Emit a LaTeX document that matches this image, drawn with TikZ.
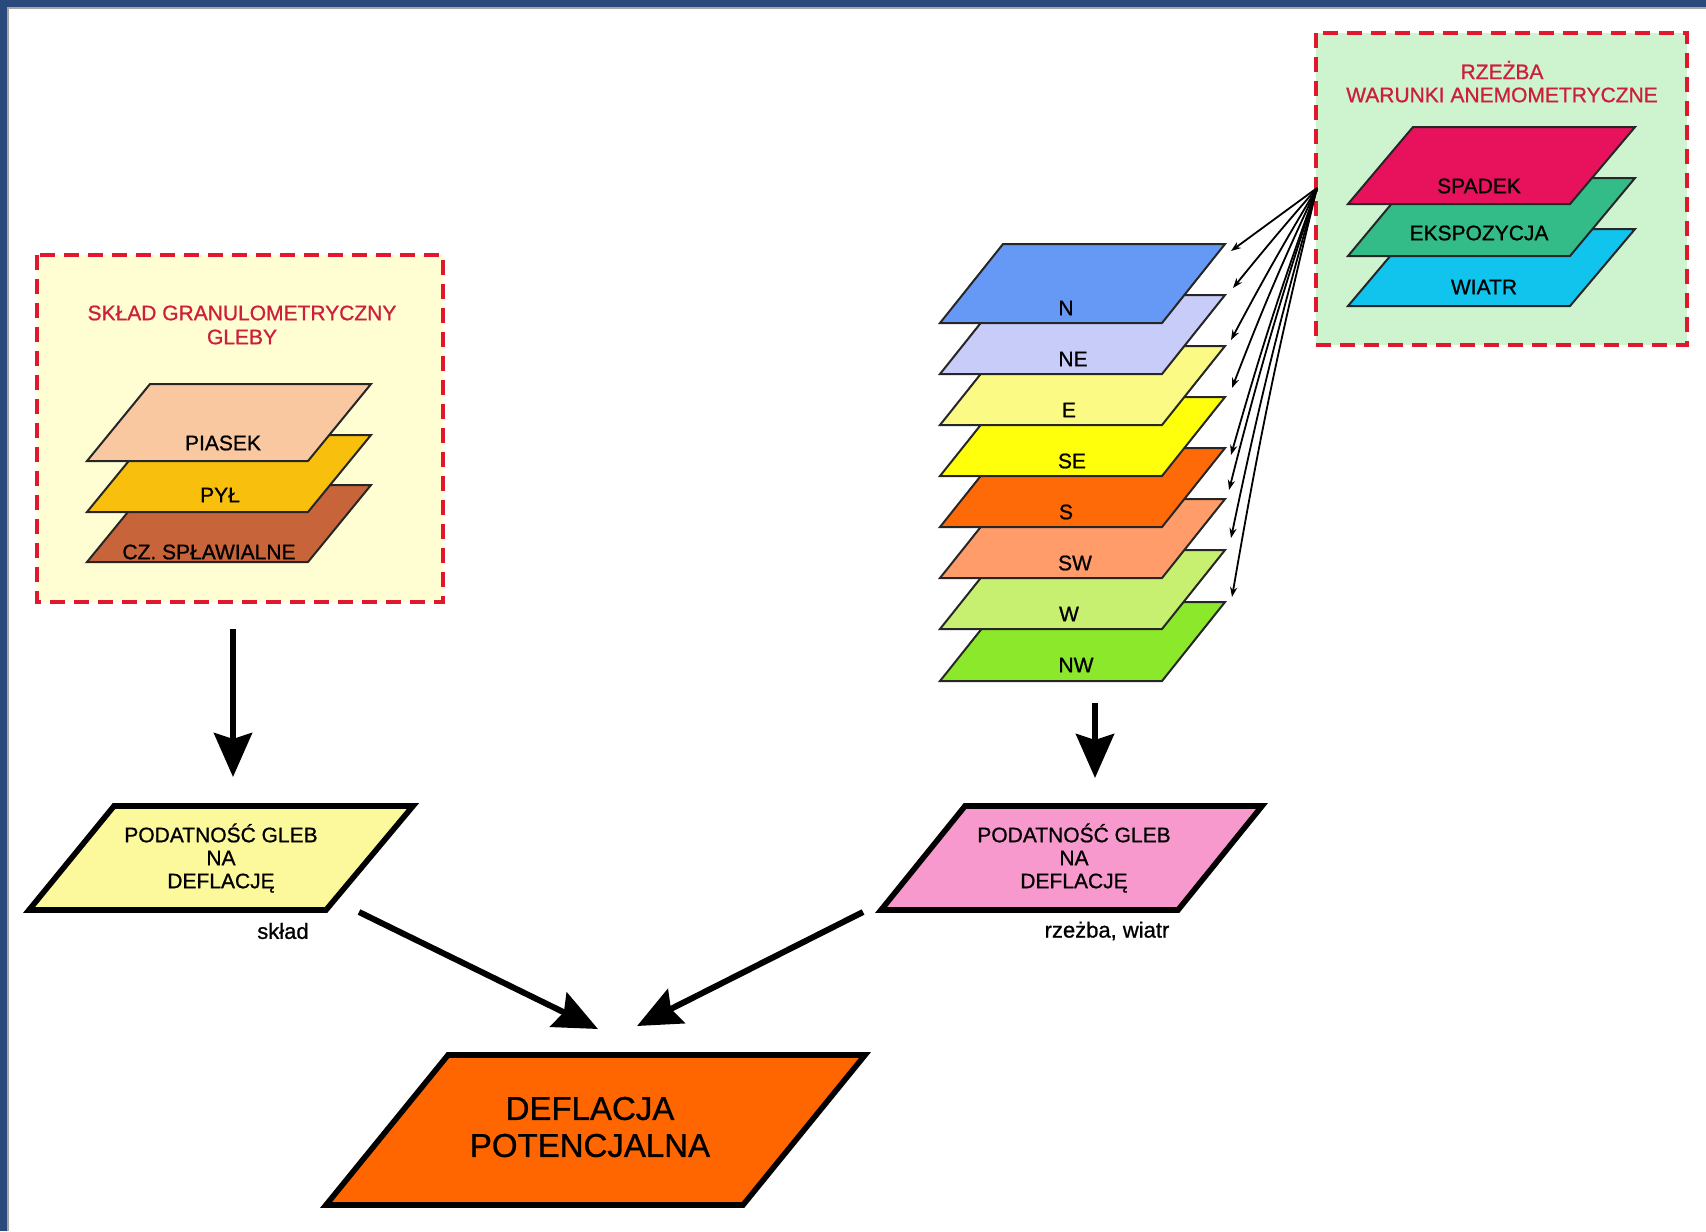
\documentclass[tikz,border=0pt]{standalone}
\usepackage{fontspec}
\setmainfont{Liberation Sans}[FakeBold=0.9]
\usetikzlibrary{arrows.meta,bending}

\definecolor{frameblue}{HTML}{2A4A7C}
\definecolor{dashred}{HTML}{E0182E}
\definecolor{titlered}{HTML}{CC1F3C}
\definecolor{creamfill}{HTML}{FFFDD2}
\definecolor{mintfill}{HTML}{CDF3CF}
\definecolor{piasek}{HTML}{F9C8A0}
\definecolor{pyl}{HTML}{F8C00C}
\definecolor{czsplaw}{HTML}{C8643A}
\definecolor{spadek}{HTML}{E8125C}
\definecolor{ekspo}{HTML}{33BB88}
\definecolor{wiatr}{HTML}{10C4EE}
\definecolor{dirN}{HTML}{6699F5}
\definecolor{dirNE}{HTML}{C8CCF8}
\definecolor{dirE}{HTML}{FAFA84}
\definecolor{dirSE}{HTML}{FFFF0C}
\definecolor{dirS}{HTML}{FF6A08}
\definecolor{dirSW}{HTML}{FF9C6A}
\definecolor{dirW}{HTML}{C8F070}
\definecolor{dirNW}{HTML}{8CE82A}
\definecolor{yellowbox}{HTML}{FCF89C}
\definecolor{pinkbox}{HTML}{F799CC}
\definecolor{deflbox}{HTML}{FF6600}

% a flat layer: bottom-left corner (#1,#2), width #3, height #4, skew #5, fill #6
\newcommand\slab[6]{%
  \filldraw[slabline, fill=#6] (#1,#2) -- ++(#3,0) -- ++(#5,-#4) -- ++(-#3,0) -- cycle;%
}

\begin{document}
\begin{tikzpicture}[x=0.5pt,y=-0.5pt,
  slabline/.style={draw=black!85, line width=1pt, line join=miter},
  lbl/.style={font=\fontsize{10.5}{11.5}\selectfont, text=black, inner sep=0pt},
  note/.style={font=\fontsize{11}{12}\selectfont, text=black, inner sep=0pt},
  grouptitle/.style={font=\fontsize{10.5}{12}\selectfont, text=titlered, inner sep=0pt},
  groupbox/.style={draw=dashred, dash pattern=on 7.5pt off 4.5pt, line width=1.6pt},
  resultbox/.style={draw=black, line width=2.8pt, line join=miter},
  bigarrow/.style={line width=3pt, -{Stealth[length=22pt,width=19pt,inset=3pt]}},
  fanarrow/.style={line width=0.9pt, -{Stealth[length=5pt,width=3.6pt]}},
]
\useasboundingbox (0,0) rectangle (1706,1231);

% frame bands
\fill[white] (0,0) rectangle (1706,1231);
\fill[black!35] (7,7) rectangle (1706,9);
\fill[black!35] (7,7) rectangle (9,1231);
\fill[frameblue] (0,0) rectangle (1706,7);
\fill[frameblue] (0,0) rectangle (7,1231);

% ---- soil texture group ----
\filldraw[groupbox, fill=creamfill] (37,255) rectangle (443,602);
\node[grouptitle] (soiltitle1) at (242,313) {SKŁAD GRANULOMETRYCZNY};
\node[grouptitle] (soiltitle2) at (242,337) {GLEBY};
\slab{87}{562}{221}{77}{63}{czsplaw}
\slab{87}{512}{221}{77}{63}{pyl}
\slab{87}{461}{221}{77}{63}{piasek}
\node[lbl] (lPiasek) at (223,443) {PIASEK};
\node[lbl] (lPyl) at (220,495) {PYŁ};
\node[lbl] (lCz) at (209,552) {CZ. SPŁAWIALNE};

% ---- relief / wind group ----
\filldraw[groupbox, fill=mintfill] (1316,33) rectangle (1687,345);
\node[grouptitle] (relieftitle1) at (1502,70) {RZEŻBA};
\node[grouptitle] (relieftitle2) at (1502,95) {WARUNKI ANEMOMETRYCZNE};
\slab{1348}{306}{222}{77}{65}{wiatr}
\slab{1348}{256}{222}{78}{65}{ekspo}
\slab{1348}{204}{222}{77}{65}{spadek}
\node[lbl] (lSpadek) at (1479,186) {SPADEK};
\node[lbl] (lEkspo) at (1479,233) {EKSPOZYCJA};
\node[lbl] (lWiatr) at (1484,287) {WIATR};

% ---- wind direction layers ----
\slab{940}{681}{222}{79}{63}{dirNW}
\slab{940}{629}{222}{79}{63}{dirW}
\slab{940}{578}{222}{79}{63}{dirSW}
\slab{940}{527}{222}{79}{63}{dirS}
\slab{940}{476}{222}{79}{63}{dirSE}
\slab{940}{425}{222}{79}{63}{dirE}
\slab{940}{374}{222}{79}{63}{dirNE}
\slab{940}{323}{222}{79}{63}{dirN}
\node[lbl] (dN)  at (1066,308) {N};
\node[lbl] (dNE) at (1073,359) {NE};
\node[lbl] (dE)  at (1069,410) {E};
\node[lbl] (dSE) at (1072,461) {SE};
\node[lbl] (dS)  at (1066,512) {S};
\node[lbl] (dSW) at (1075,563) {SW};
\node[lbl] (dW)  at (1069,614) {W};
\node[lbl] (dNW) at (1076,665) {NW};

% fan of arrows from the relief group to each direction layer
\coordinate (fan) at (1317,188);
\coordinate (tipN)  at (1231,251);
\coordinate (tipNE) at (1233,288);
\coordinate (tipE)  at (1231,340);
\coordinate (tipSE) at (1232,388);
\coordinate (tipS)  at (1231,455);
\coordinate (tipSW) at (1229,490);
\coordinate (tipW)  at (1231,538);
\coordinate (tipNW) at (1232,597);
\draw[fanarrow] (fan) -- (tipN);
\draw[fanarrow] (fan) to[bend right=1] (tipNE);
\draw[fanarrow] (fan) to[bend right=1.5] (tipE);
\draw[fanarrow] (fan) to[bend right=2] (tipSE);
\draw[fanarrow] (fan) to[bend right=2] (tipS);
\draw[fanarrow] (fan) to[bend right=2] (tipSW);
\draw[fanarrow] (fan) to[bend right=2] (tipW);
\draw[fanarrow] (fan) to[bend right=2] (tipNW);

% ---- susceptibility boxes ----
\filldraw[resultbox, fill=yellowbox] (114,806) -- (413,806) -- (326,910) -- (29,910) -- cycle;
\node[lbl, align=center] (suscSoil) at (221,858) {PODATNOŚĆ GLEB\\NA\\DEFLACJĘ};
\node[note] (noteSoil) at (283,931) {skład};

\filldraw[resultbox, fill=pinkbox] (965,806) -- (1262,806) -- (1178,910) -- (881,910) -- cycle;
\node[lbl, align=center] (suscRelief) at (1074,858) {PODATNOŚĆ GLEB\\NA\\DEFLACJĘ};
\node[note] (noteRelief) at (1107,931) {rzeżba, wiatr};

% ---- result ----
\filldraw[resultbox, fill=deflbox] (448,1055) -- (865,1055) -- (743,1205) -- (326,1205) -- cycle;
\node[inner sep=0pt, align=center, font=\fontsize{16.5}{18.5}\selectfont, text=black] (deflacja) at (590,1127) {DEFLACJA\\POTENCJALNA};

% ---- main flow arrows ----
\coordinate (soilOut) at (233,629);
\coordinate (soilIn) at (233,777);
\coordinate (dirOut) at (1095,703);
\coordinate (dirIn) at (1095,778);
\coordinate (lDiagA) at (359,912);
\coordinate (lDiagB) at (598,1029);
\coordinate (rDiagA) at (863,912);
\coordinate (rDiagB) at (637,1026);
\draw[bigarrow] (soilOut) -- (soilIn);
\draw[bigarrow] (dirOut) -- (dirIn);
\draw[bigarrow] (lDiagA) -- (lDiagB);
\draw[bigarrow] (rDiagA) -- (rDiagB);
\end{tikzpicture}
\end{document}
